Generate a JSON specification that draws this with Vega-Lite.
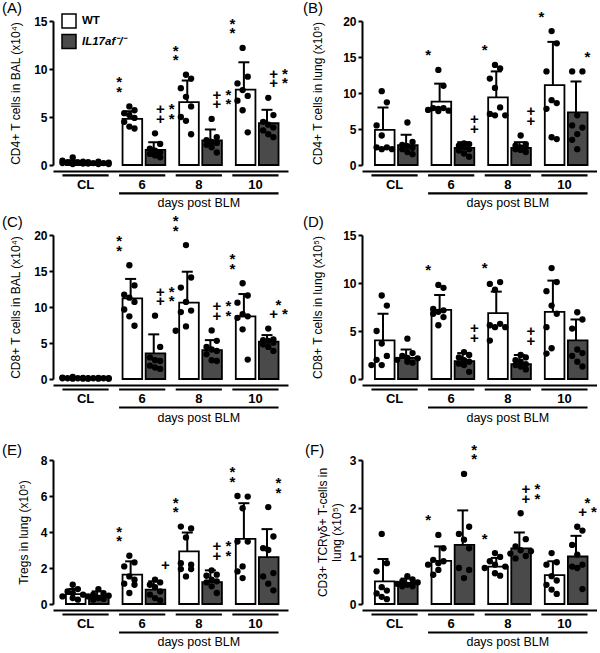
{
  "$schema": "https://vega.github.io/schema/vega-lite/v6.json",
  "padding": {"left": 2, "top": 0, "right": 0, "bottom": 0},
  "config": {
    "font": "Liberation Sans",
    "view": {"stroke": null},
    "axis": {"domainColor": "black", "domainWidth": 2, "tickColor": "black", "tickWidth": 2, "tickSize": 4, "labelColor": "black", "labelFontSize": 12, "labelFontWeight": "bold", "labelPadding": 2, "titleColor": "black", "titleFontSize": 12, "titleFontWeight": "normal", "grid": false},
    "title": {"color": "black"},
    "legend": {"padding": 0}
  },
  "datasets": {
    "st": [
      {"p":"A","d":"CL","g":"WT","m":0.3,"s":0.2},{"p":"A","d":"CL","g":"KO","m":0.2,"s":0.1},
      {"p":"A","d":"6","g":"WT","m":4.8,"s":0.8},{"p":"A","d":"6","g":"KO","m":1.57,"s":0.8},
      {"p":"A","d":"8","g":"WT","m":6.55,"s":2.25},{"p":"A","d":"8","g":"KO","m":2.55,"s":1.15},
      {"p":"A","d":"10","g":"WT","m":7.85,"s":2.85},{"p":"A","d":"10","g":"KO","m":4.35,"s":1.4},
      {"p":"B","d":"CL","g":"WT","m":4.87,"s":3.13},{"p":"B","d":"CL","g":"KO","m":2.74,"s":1.46},
      {"p":"B","d":"6","g":"WT","m":8.8,"s":2.5},{"p":"B","d":"6","g":"KO","m":2.37,"s":0.8},
      {"p":"B","d":"8","g":"WT","m":9.4,"s":3.6},{"p":"B","d":"8","g":"KO","m":2.37,"s":0.8},
      {"p":"B","d":"10","g":"WT","m":11.1,"s":6.0},{"p":"B","d":"10","g":"KO","m":7.3,"s":4.3},
      {"p":"C","d":"CL","g":"WT","m":0.12,"s":0.05},{"p":"C","d":"CL","g":"KO","m":0.1,"s":0.04},
      {"p":"C","d":"6","g":"WT","m":11.2,"s":2.7},{"p":"C","d":"6","g":"KO","m":3.55,"s":2.65},
      {"p":"C","d":"8","g":"WT","m":10.6,"s":4.3},{"p":"C","d":"8","g":"KO","m":4.0,"s":1.4},
      {"p":"C","d":"10","g":"WT","m":8.7,"s":3.1},{"p":"C","d":"10","g":"KO","m":5.2,"s":0.9},
      {"p":"D","d":"CL","g":"WT","m":4.03,"s":2.77},{"p":"D","d":"CL","g":"KO","m":2.2,"s":0.87},
      {"p":"D","d":"6","g":"WT","m":7.2,"s":1.55},{"p":"D","d":"6","g":"KO","m":1.86,"s":0.84},
      {"p":"D","d":"8","g":"WT","m":6.86,"s":2.24},{"p":"D","d":"8","g":"KO","m":1.55,"s":0.95},
      {"p":"D","d":"10","g":"WT","m":7.0,"s":3.25},{"p":"D","d":"10","g":"KO","m":4.03,"s":2.17},
      {"p":"E","d":"CL","g":"WT","m":0.55,"s":0.28},{"p":"E","d":"CL","g":"KO","m":0.46,"s":0.24},
      {"p":"E","d":"6","g":"WT","m":1.63,"s":0.74},{"p":"E","d":"6","g":"KO","m":0.8,"s":0.46},
      {"p":"E","d":"8","g":"WT","m":2.92,"s":1.05},{"p":"E","d":"8","g":"KO","m":1.22,"s":0.65},
      {"p":"E","d":"10","g":"WT","m":3.62,"s":1.98},{"p":"E","d":"10","g":"KO","m":2.6,"s":1.56},
      {"p":"F","d":"CL","g":"WT","m":0.47,"s":0.47},{"p":"F","d":"CL","g":"KO","m":0.44,"s":0.09},
      {"p":"F","d":"6","g":"WT","m":0.9,"s":0.3},{"p":"F","d":"6","g":"KO","m":1.23,"s":0.72},
      {"p":"F","d":"8","g":"WT","m":0.78,"s":0.18},{"p":"F","d":"8","g":"KO","m":1.16,"s":0.33},
      {"p":"F","d":"10","g":"WT","m":0.6,"s":0.29},{"p":"F","d":"10","g":"KO","m":0.99,"s":0.43}
    ],
    "sg": [
      {"k":"A|6|WT","t":"*\n*"},{"k":"A|6|KO","t":"+\u00a0*\n+\u00a0*"},{"k":"A|8|WT","t":"*\n*"},{"k":"A|8|KO","t":"+\u00a0*\n+\u00a0*"},{"k":"A|10|WT","t":"*\n*"},{"k":"A|10|KO","t":"+\u00a0*\n+\u00a0*"},
      {"k":"B|6|WT","t":"\u00a0\n*"},{"k":"B|6|KO","t":"+\n+"},{"k":"B|8|WT","t":"\u00a0\n*"},{"k":"B|8|KO","t":"+\n+"},{"k":"B|10|WT","t":"\u00a0\n*"},{"k":"B|10|KO","t":"\u00a0\n*"},
      {"k":"C|6|WT","t":"*\n*"},{"k":"C|6|KO","t":"+\u00a0*\n+\u00a0*"},{"k":"C|8|WT","t":"*\n*"},{"k":"C|8|KO","t":"+\u00a0*\n+\u00a0*"},{"k":"C|10|WT","t":"*\n*"},{"k":"C|10|KO","t":"\u00a0\u00a0\u00a0*\n+\u00a0*"},
      {"k":"D|6|WT","t":"\u00a0\n*"},{"k":"D|6|KO","t":"+\n+"},{"k":"D|8|WT","t":"\u00a0\n*"},{"k":"D|8|KO","t":"+\n+"},
      {"k":"E|6|WT","t":"*\n*"},{"k":"E|6|KO","t":"\u00a0\n+"},{"k":"E|8|WT","t":"*\n*"},{"k":"E|8|KO","t":"+\u00a0*\n+\u00a0*"},{"k":"E|10|WT","t":"*\n*"},{"k":"E|10|KO","t":"*\n*"},
      {"k":"F|6|WT","t":"\u00a0\n*"},{"k":"F|6|KO","t":"*\n*"},{"k":"F|8|WT","t":"\u00a0\n*"},{"k":"F|8|KO","t":"+\u00a0*\n+\u00a0*"},{"k":"F|10|KO","t":"\u00a0\u00a0\u00a0*\n+\u00a0*"}
    ],
    "strip": [
      {"a":"CL","b":"CL","c":"CL","lv":1,"t":"CL"},
      {"a":"6","b":"6","c":"6","lv":1,"t":"6"},
      {"a":"8","b":"8","c":"8","lv":1,"t":"8"},
      {"a":"10","b":"10","c":"10","lv":1,"t":"10"},
      {"a":"6","b":"10","c":"8","lv":2,"t":"days post BLM"}
    ],
    "pts": [
      {"p":"A","d":"CL","g":"WT","v":0.8,"j":0},{"p":"A","d":"CL","g":"WT","v":0.45,"j":-2},{"p":"A","d":"CL","g":"WT","v":0.35,"j":2},{"p":"A","d":"CL","g":"WT","v":0.3,"j":-1},{"p":"A","d":"CL","g":"WT","v":0.25,"j":1},{"p":"A","d":"CL","g":"WT","v":0.2,"j":-2},{"p":"A","d":"CL","g":"WT","v":0.15,"j":2},{"p":"A","d":"CL","g":"WT","v":0.1,"j":0},
      {"p":"A","d":"CL","g":"KO","v":0.35,"j":0},{"p":"A","d":"CL","g":"KO","v":0.3,"j":-2},{"p":"A","d":"CL","g":"KO","v":0.25,"j":2},{"p":"A","d":"CL","g":"KO","v":0.2,"j":-1},{"p":"A","d":"CL","g":"KO","v":0.2,"j":1},{"p":"A","d":"CL","g":"KO","v":0.15,"j":-2},{"p":"A","d":"CL","g":"KO","v":0.1,"j":2},{"p":"A","d":"CL","g":"KO","v":0.1,"j":0},
      {"p":"A","d":"6","g":"WT","v":6.1,"j":0},{"p":"A","d":"6","g":"WT","v":5.7,"j":1},{"p":"A","d":"6","g":"WT","v":5.4,"j":-1},{"p":"A","d":"6","g":"WT","v":5.2,"j":0},{"p":"A","d":"6","g":"WT","v":4.9,"j":1},{"p":"A","d":"6","g":"WT","v":4.5,"j":-1},{"p":"A","d":"6","g":"WT","v":4.0,"j":0},{"p":"A","d":"6","g":"WT","v":3.8,"j":1},
      {"p":"A","d":"6","g":"KO","v":3.3,"j":0},{"p":"A","d":"6","g":"KO","v":2.2,"j":1},{"p":"A","d":"6","g":"KO","v":1.7,"j":-1},{"p":"A","d":"6","g":"KO","v":1.5,"j":0},{"p":"A","d":"6","g":"KO","v":1.3,"j":1},{"p":"A","d":"6","g":"KO","v":1.15,"j":-1},{"p":"A","d":"6","g":"KO","v":1.0,"j":0},{"p":"A","d":"6","g":"KO","v":0.8,"j":1},
      {"p":"A","d":"8","g":"WT","v":9.4,"j":0},{"p":"A","d":"8","g":"WT","v":9.0,"j":1},{"p":"A","d":"8","g":"WT","v":8.0,"j":-1},{"p":"A","d":"8","g":"WT","v":7.1,"j":0},{"p":"A","d":"8","g":"WT","v":6.1,"j":1},{"p":"A","d":"8","g":"WT","v":5.0,"j":-1},{"p":"A","d":"8","g":"WT","v":4.6,"j":0},{"p":"A","d":"8","g":"WT","v":3.2,"j":1},
      {"p":"A","d":"8","g":"KO","v":4.8,"j":0},{"p":"A","d":"8","g":"KO","v":2.9,"j":1},{"p":"A","d":"8","g":"KO","v":2.6,"j":-1},{"p":"A","d":"8","g":"KO","v":2.4,"j":0},{"p":"A","d":"8","g":"KO","v":2.3,"j":1},{"p":"A","d":"8","g":"KO","v":2.1,"j":-1},{"p":"A","d":"8","g":"KO","v":1.85,"j":0},{"p":"A","d":"8","g":"KO","v":1.3,"j":1},
      {"p":"A","d":"10","g":"WT","v":12.2,"j":0},{"p":"A","d":"10","g":"WT","v":9.2,"j":1},{"p":"A","d":"10","g":"WT","v":8.5,"j":-1},{"p":"A","d":"10","g":"WT","v":7.8,"j":0},{"p":"A","d":"10","g":"WT","v":7.2,"j":1},{"p":"A","d":"10","g":"WT","v":6.7,"j":-1},{"p":"A","d":"10","g":"WT","v":5.7,"j":0},{"p":"A","d":"10","g":"WT","v":3.4,"j":1},
      {"p":"A","d":"10","g":"KO","v":7.0,"j":0},{"p":"A","d":"10","g":"KO","v":5.2,"j":1},{"p":"A","d":"10","g":"KO","v":4.5,"j":-1},{"p":"A","d":"10","g":"KO","v":4.2,"j":0},{"p":"A","d":"10","g":"KO","v":3.9,"j":1},{"p":"A","d":"10","g":"KO","v":3.6,"j":-1},{"p":"A","d":"10","g":"KO","v":3.2,"j":0},{"p":"A","d":"10","g":"KO","v":2.9,"j":1},

      {"p":"B","d":"CL","g":"WT","v":10.25,"j":0},{"p":"B","d":"CL","g":"WT","v":8.7,"j":1},{"p":"B","d":"CL","g":"WT","v":5.5,"j":-1},{"p":"B","d":"CL","g":"WT","v":4.1,"j":0},{"p":"B","d":"CL","g":"WT","v":2.45,"j":1},{"p":"B","d":"CL","g":"WT","v":2.45,"j":-1},{"p":"B","d":"CL","g":"WT","v":2.2,"j":0},{"p":"B","d":"CL","g":"WT","v":2.2,"j":2},
      {"p":"B","d":"CL","g":"KO","v":5.9,"j":0},{"p":"B","d":"CL","g":"KO","v":3.2,"j":1},{"p":"B","d":"CL","g":"KO","v":2.8,"j":-1},{"p":"B","d":"CL","g":"KO","v":2.6,"j":0},{"p":"B","d":"CL","g":"KO","v":2.4,"j":1},{"p":"B","d":"CL","g":"KO","v":2.2,"j":-1},{"p":"B","d":"CL","g":"KO","v":1.8,"j":0},{"p":"B","d":"CL","g":"KO","v":1.5,"j":1},
      {"p":"B","d":"6","g":"WT","v":13.2,"j":0},{"p":"B","d":"6","g":"WT","v":11.0,"j":1},{"p":"B","d":"6","g":"WT","v":7.9,"j":-1},{"p":"B","d":"6","g":"WT","v":7.9,"j":1},{"p":"B","d":"6","g":"WT","v":7.8,"j":0},{"p":"B","d":"6","g":"WT","v":7.65,"j":-2},{"p":"B","d":"6","g":"WT","v":7.55,"j":2},{"p":"B","d":"6","g":"WT","v":7.5,"j":0},
      {"p":"B","d":"6","g":"KO","v":3.0,"j":0},{"p":"B","d":"6","g":"KO","v":2.9,"j":1},{"p":"B","d":"6","g":"KO","v":2.7,"j":-1},{"p":"B","d":"6","g":"KO","v":2.45,"j":0},{"p":"B","d":"6","g":"KO","v":2.2,"j":1},{"p":"B","d":"6","g":"KO","v":2.0,"j":-1},{"p":"B","d":"6","g":"KO","v":1.6,"j":0},{"p":"B","d":"6","g":"KO","v":1.15,"j":1},
      {"p":"B","d":"8","g":"WT","v":13.9,"j":0},{"p":"B","d":"8","g":"WT","v":13.4,"j":1},{"p":"B","d":"8","g":"WT","v":12.0,"j":-1},{"p":"B","d":"8","g":"WT","v":10.7,"j":0},{"p":"B","d":"8","g":"WT","v":8.0,"j":1},{"p":"B","d":"8","g":"WT","v":7.1,"j":-1},{"p":"B","d":"8","g":"WT","v":6.9,"j":0},{"p":"B","d":"8","g":"WT","v":6.9,"j":2},
      {"p":"B","d":"8","g":"KO","v":4.1,"j":0},{"p":"B","d":"8","g":"KO","v":2.9,"j":1},{"p":"B","d":"8","g":"KO","v":2.7,"j":-1},{"p":"B","d":"8","g":"KO","v":2.45,"j":0},{"p":"B","d":"8","g":"KO","v":2.4,"j":1},{"p":"B","d":"8","g":"KO","v":2.2,"j":-1},{"p":"B","d":"8","g":"KO","v":2.1,"j":0},{"p":"B","d":"8","g":"KO","v":1.8,"j":1},
      {"p":"B","d":"10","g":"WT","v":18.6,"j":0},{"p":"B","d":"10","g":"WT","v":16.9,"j":1},{"p":"B","d":"10","g":"WT","v":13.0,"j":-1},{"p":"B","d":"10","g":"WT","v":9.0,"j":0},{"p":"B","d":"10","g":"WT","v":8.6,"j":1},{"p":"B","d":"10","g":"WT","v":7.8,"j":-1},{"p":"B","d":"10","g":"WT","v":3.85,"j":0},{"p":"B","d":"10","g":"WT","v":3.6,"j":1},
      {"p":"B","d":"10","g":"KO","v":13.0,"j":-1},{"p":"B","d":"10","g":"KO","v":13.0,"j":1},{"p":"B","d":"10","g":"KO","v":6.9,"j":0},{"p":"B","d":"10","g":"KO","v":5.5,"j":-1},{"p":"B","d":"10","g":"KO","v":5.2,"j":1},{"p":"B","d":"10","g":"KO","v":4.3,"j":0},{"p":"B","d":"10","g":"KO","v":3.5,"j":-1},{"p":"B","d":"10","g":"KO","v":2.2,"j":0},

      {"p":"C","d":"CL","g":"WT","v":0.3,"j":0},{"p":"C","d":"CL","g":"WT","v":0.2,"j":-2},{"p":"C","d":"CL","g":"WT","v":0.15,"j":2},{"p":"C","d":"CL","g":"WT","v":0.1,"j":-1},{"p":"C","d":"CL","g":"WT","v":0.1,"j":1},{"p":"C","d":"CL","g":"WT","v":0.1,"j":-2},{"p":"C","d":"CL","g":"WT","v":0.05,"j":2},{"p":"C","d":"CL","g":"WT","v":0.05,"j":0},
      {"p":"C","d":"CL","g":"KO","v":0.15,"j":0},{"p":"C","d":"CL","g":"KO","v":0.1,"j":-2},{"p":"C","d":"CL","g":"KO","v":0.1,"j":2},{"p":"C","d":"CL","g":"KO","v":0.1,"j":-1},{"p":"C","d":"CL","g":"KO","v":0.1,"j":1},{"p":"C","d":"CL","g":"KO","v":0.05,"j":-2},{"p":"C","d":"CL","g":"KO","v":0.05,"j":2},{"p":"C","d":"CL","g":"KO","v":0.05,"j":0},
      {"p":"C","d":"6","g":"WT","v":15.8,"j":0},{"p":"C","d":"6","g":"WT","v":13.0,"j":1},{"p":"C","d":"6","g":"WT","v":11.7,"j":-1},{"p":"C","d":"6","g":"WT","v":11.3,"j":0},{"p":"C","d":"6","g":"WT","v":10.7,"j":1},{"p":"C","d":"6","g":"WT","v":9.65,"j":-1},{"p":"C","d":"6","g":"WT","v":8.7,"j":0},{"p":"C","d":"6","g":"WT","v":7.4,"j":1},
      {"p":"C","d":"6","g":"KO","v":8.8,"j":0},{"p":"C","d":"6","g":"KO","v":4.45,"j":1},{"p":"C","d":"6","g":"KO","v":3.0,"j":-1},{"p":"C","d":"6","g":"KO","v":2.6,"j":0},{"p":"C","d":"6","g":"KO","v":2.5,"j":1},{"p":"C","d":"6","g":"KO","v":1.85,"j":-1},{"p":"C","d":"6","g":"KO","v":1.6,"j":0},{"p":"C","d":"6","g":"KO","v":1.4,"j":1},
      {"p":"C","d":"8","g":"WT","v":18.6,"j":0},{"p":"C","d":"8","g":"WT","v":14.1,"j":1},{"p":"C","d":"8","g":"WT","v":12.7,"j":-1},{"p":"C","d":"8","g":"WT","v":10.7,"j":0},{"p":"C","d":"8","g":"WT","v":9.5,"j":1},{"p":"C","d":"8","g":"WT","v":9.3,"j":-1},{"p":"C","d":"8","g":"WT","v":7.3,"j":0},{"p":"C","d":"8","g":"WT","v":6.7,"j":-2},
      {"p":"C","d":"8","g":"KO","v":6.75,"j":0},{"p":"C","d":"8","g":"KO","v":5.3,"j":1},{"p":"C","d":"8","g":"KO","v":4.45,"j":-1},{"p":"C","d":"8","g":"KO","v":4.1,"j":0},{"p":"C","d":"8","g":"KO","v":3.9,"j":1},{"p":"C","d":"8","g":"KO","v":3.45,"j":-1},{"p":"C","d":"8","g":"KO","v":2.6,"j":0},{"p":"C","d":"8","g":"KO","v":2.5,"j":1},
      {"p":"C","d":"10","g":"WT","v":13.3,"j":0},{"p":"C","d":"10","g":"WT","v":11.6,"j":1},{"p":"C","d":"10","g":"WT","v":10.6,"j":-1},{"p":"C","d":"10","g":"WT","v":9.0,"j":0},{"p":"C","d":"10","g":"WT","v":8.7,"j":1},{"p":"C","d":"10","g":"WT","v":8.5,"j":-1},{"p":"C","d":"10","g":"WT","v":6.9,"j":0},{"p":"C","d":"10","g":"WT","v":2.7,"j":1},
      {"p":"C","d":"10","g":"KO","v":7.0,"j":0},{"p":"C","d":"10","g":"KO","v":5.5,"j":1},{"p":"C","d":"10","g":"KO","v":5.4,"j":-1},{"p":"C","d":"10","g":"KO","v":5.3,"j":0},{"p":"C","d":"10","g":"KO","v":5.05,"j":1},{"p":"C","d":"10","g":"KO","v":4.8,"j":-1},{"p":"C","d":"10","g":"KO","v":4.45,"j":0},{"p":"C","d":"10","g":"KO","v":3.9,"j":1},

      {"p":"D","d":"CL","g":"WT","v":8.7,"j":0},{"p":"D","d":"CL","g":"WT","v":7.65,"j":1},{"p":"D","d":"CL","g":"WT","v":5.0,"j":-1},{"p":"D","d":"CL","g":"WT","v":3.7,"j":0},{"p":"D","d":"CL","g":"WT","v":2.4,"j":1},{"p":"D","d":"CL","g":"WT","v":2.0,"j":-1},{"p":"D","d":"CL","g":"WT","v":1.45,"j":0},{"p":"D","d":"CL","g":"WT","v":1.45,"j":-2},
      {"p":"D","d":"CL","g":"KO","v":4.2,"j":0},{"p":"D","d":"CL","g":"KO","v":2.7,"j":1},{"p":"D","d":"CL","g":"KO","v":2.4,"j":-1},{"p":"D","d":"CL","g":"KO","v":2.2,"j":0},{"p":"D","d":"CL","g":"KO","v":2.15,"j":2},{"p":"D","d":"CL","g":"KO","v":2.0,"j":-2},{"p":"D","d":"CL","g":"KO","v":1.8,"j":0},{"p":"D","d":"CL","g":"KO","v":1.7,"j":1},
      {"p":"D","d":"6","g":"WT","v":9.8,"j":0},{"p":"D","d":"6","g":"WT","v":9.5,"j":1},{"p":"D","d":"6","g":"WT","v":7.3,"j":-1},{"p":"D","d":"6","g":"WT","v":7.15,"j":1},{"p":"D","d":"6","g":"WT","v":7.0,"j":0},{"p":"D","d":"6","g":"WT","v":6.8,"j":-1},{"p":"D","d":"6","g":"WT","v":6.45,"j":1},{"p":"D","d":"6","g":"WT","v":5.6,"j":0},
      {"p":"D","d":"6","g":"KO","v":2.8,"j":0},{"p":"D","d":"6","g":"KO","v":2.5,"j":1},{"p":"D","d":"6","g":"KO","v":2.25,"j":-1},{"p":"D","d":"6","g":"KO","v":1.95,"j":0},{"p":"D","d":"6","g":"KO","v":1.8,"j":1},{"p":"D","d":"6","g":"KO","v":1.6,"j":-1},{"p":"D","d":"6","g":"KO","v":1.45,"j":0},{"p":"D","d":"6","g":"KO","v":0.75,"j":1},
      {"p":"D","d":"8","g":"WT","v":10.1,"j":1},{"p":"D","d":"8","g":"WT","v":9.9,"j":-1},{"p":"D","d":"8","g":"WT","v":9.3,"j":0},{"p":"D","d":"8","g":"WT","v":5.75,"j":1},{"p":"D","d":"8","g":"WT","v":5.6,"j":-1},{"p":"D","d":"8","g":"WT","v":5.4,"j":0},{"p":"D","d":"8","g":"WT","v":5.4,"j":2},{"p":"D","d":"8","g":"WT","v":4.0,"j":-1},
      {"p":"D","d":"8","g":"KO","v":2.5,"j":0},{"p":"D","d":"8","g":"KO","v":2.25,"j":1},{"p":"D","d":"8","g":"KO","v":1.95,"j":-1},{"p":"D","d":"8","g":"KO","v":1.8,"j":0},{"p":"D","d":"8","g":"KO","v":1.55,"j":1},{"p":"D","d":"8","g":"KO","v":1.45,"j":-1},{"p":"D","d":"8","g":"KO","v":1.3,"j":0},{"p":"D","d":"8","g":"KO","v":1.0,"j":1},
      {"p":"D","d":"10","g":"WT","v":11.55,"j":0},{"p":"D","d":"10","g":"WT","v":10.1,"j":1},{"p":"D","d":"10","g":"WT","v":9.15,"j":-1},{"p":"D","d":"10","g":"WT","v":7.65,"j":0},{"p":"D","d":"10","g":"WT","v":6.8,"j":1},{"p":"D","d":"10","g":"WT","v":5.4,"j":-1},{"p":"D","d":"10","g":"WT","v":3.2,"j":0},{"p":"D","d":"10","g":"WT","v":2.65,"j":-1},
      {"p":"D","d":"10","g":"KO","v":6.95,"j":0},{"p":"D","d":"10","g":"KO","v":6.2,"j":1},{"p":"D","d":"10","g":"KO","v":5.25,"j":-1},{"p":"D","d":"10","g":"KO","v":3.07,"j":0},{"p":"D","d":"10","g":"KO","v":2.7,"j":1},{"p":"D","d":"10","g":"KO","v":2.4,"j":-1},{"p":"D","d":"10","g":"KO","v":1.8,"j":0},{"p":"D","d":"10","g":"KO","v":1.3,"j":1},

      {"p":"E","d":"CL","g":"WT","v":1.07,"j":0},{"p":"E","d":"CL","g":"WT","v":0.83,"j":1},{"p":"E","d":"CL","g":"WT","v":0.7,"j":-1},{"p":"E","d":"CL","g":"WT","v":0.6,"j":0},{"p":"E","d":"CL","g":"WT","v":0.52,"j":2},{"p":"E","d":"CL","g":"WT","v":0.42,"j":-2},{"p":"E","d":"CL","g":"WT","v":0.33,"j":0},{"p":"E","d":"CL","g":"WT","v":0.24,"j":1},
      {"p":"E","d":"CL","g":"KO","v":0.83,"j":0},{"p":"E","d":"CL","g":"KO","v":0.6,"j":1},{"p":"E","d":"CL","g":"KO","v":0.52,"j":-1},{"p":"E","d":"CL","g":"KO","v":0.46,"j":2},{"p":"E","d":"CL","g":"KO","v":0.42,"j":-2},{"p":"E","d":"CL","g":"KO","v":0.33,"j":0},{"p":"E","d":"CL","g":"KO","v":0.28,"j":1},{"p":"E","d":"CL","g":"KO","v":0.24,"j":-1},
      {"p":"E","d":"6","g":"WT","v":2.68,"j":0},{"p":"E","d":"6","g":"WT","v":2.31,"j":1},{"p":"E","d":"6","g":"WT","v":2.09,"j":-1},{"p":"E","d":"6","g":"WT","v":1.53,"j":0},{"p":"E","d":"6","g":"WT","v":1.35,"j":1},{"p":"E","d":"6","g":"WT","v":1.13,"j":-1},{"p":"E","d":"6","g":"WT","v":1.07,"j":1},{"p":"E","d":"6","g":"WT","v":0.61,"j":0},
      {"p":"E","d":"6","g":"KO","v":1.35,"j":0},{"p":"E","d":"6","g":"KO","v":1.2,"j":1},{"p":"E","d":"6","g":"KO","v":1.07,"j":-1},{"p":"E","d":"6","g":"KO","v":0.94,"j":0},{"p":"E","d":"6","g":"KO","v":0.7,"j":1},{"p":"E","d":"6","g":"KO","v":0.52,"j":-1},{"p":"E","d":"6","g":"KO","v":0.33,"j":0},{"p":"E","d":"6","g":"KO","v":0.2,"j":1},
      {"p":"E","d":"8","g":"WT","v":4.3,"j":-1},{"p":"E","d":"8","g":"WT","v":4.2,"j":1},{"p":"E","d":"8","g":"WT","v":3.7,"j":0},{"p":"E","d":"8","g":"WT","v":2.27,"j":-1},{"p":"E","d":"8","g":"WT","v":2.18,"j":1},{"p":"E","d":"8","g":"WT","v":1.94,"j":-1},{"p":"E","d":"8","g":"WT","v":1.94,"j":1},{"p":"E","d":"8","g":"WT","v":1.53,"j":0},
      {"p":"E","d":"8","g":"KO","v":1.87,"j":0},{"p":"E","d":"8","g":"KO","v":1.63,"j":1},{"p":"E","d":"8","g":"KO","v":1.57,"j":-1},{"p":"E","d":"8","g":"KO","v":1.35,"j":0},{"p":"E","d":"8","g":"KO","v":1.26,"j":1},{"p":"E","d":"8","g":"KO","v":1.2,"j":-1},{"p":"E","d":"8","g":"KO","v":0.98,"j":0},{"p":"E","d":"8","g":"KO","v":0.61,"j":1},
      {"p":"E","d":"10","g":"WT","v":6.0,"j":-1},{"p":"E","d":"10","g":"WT","v":5.97,"j":1},{"p":"E","d":"10","g":"WT","v":5.32,"j":0},{"p":"E","d":"10","g":"WT","v":3.47,"j":-1},{"p":"E","d":"10","g":"WT","v":3.47,"j":1},{"p":"E","d":"10","g":"WT","v":2.09,"j":0},{"p":"E","d":"10","g":"WT","v":1.81,"j":-1},{"p":"E","d":"10","g":"WT","v":1.44,"j":0},
      {"p":"E","d":"10","g":"KO","v":5.38,"j":0},{"p":"E","d":"10","g":"KO","v":3.75,"j":1},{"p":"E","d":"10","g":"KO","v":3.1,"j":-1},{"p":"E","d":"10","g":"KO","v":3.0,"j":0},{"p":"E","d":"10","g":"KO","v":1.72,"j":1},{"p":"E","d":"10","g":"KO","v":1.53,"j":-1},{"p":"E","d":"10","g":"KO","v":1.13,"j":0},{"p":"E","d":"10","g":"KO","v":0.76,"j":1},

      {"p":"F","d":"CL","g":"WT","v":1.46,"j":0},{"p":"F","d":"CL","g":"WT","v":0.85,"j":1},{"p":"F","d":"CL","g":"WT","v":0.68,"j":-1},{"p":"F","d":"CL","g":"WT","v":0.35,"j":0},{"p":"F","d":"CL","g":"WT","v":0.28,"j":1},{"p":"F","d":"CL","g":"WT","v":0.22,"j":-1},{"p":"F","d":"CL","g":"WT","v":0.15,"j":0},{"p":"F","d":"CL","g":"WT","v":0.1,"j":1},
      {"p":"F","d":"CL","g":"KO","v":0.58,"j":0},{"p":"F","d":"CL","g":"KO","v":0.51,"j":1},{"p":"F","d":"CL","g":"KO","v":0.47,"j":-1},{"p":"F","d":"CL","g":"KO","v":0.45,"j":2},{"p":"F","d":"CL","g":"KO","v":0.42,"j":-2},{"p":"F","d":"CL","g":"KO","v":0.4,"j":0},{"p":"F","d":"CL","g":"KO","v":0.37,"j":1},{"p":"F","d":"CL","g":"KO","v":0.37,"j":-1},
      {"p":"F","d":"6","g":"WT","v":1.44,"j":0},{"p":"F","d":"6","g":"WT","v":1.16,"j":1},{"p":"F","d":"6","g":"WT","v":0.92,"j":-1},{"p":"F","d":"6","g":"WT","v":0.89,"j":1},{"p":"F","d":"6","g":"WT","v":0.85,"j":0},{"p":"F","d":"6","g":"WT","v":0.82,"j":-2},{"p":"F","d":"6","g":"WT","v":0.71,"j":0},{"p":"F","d":"6","g":"WT","v":0.61,"j":-1},
      {"p":"F","d":"6","g":"KO","v":2.71,"j":0},{"p":"F","d":"6","g":"KO","v":1.61,"j":1},{"p":"F","d":"6","g":"KO","v":1.46,"j":-1},{"p":"F","d":"6","g":"KO","v":1.34,"j":0},{"p":"F","d":"6","g":"KO","v":1.16,"j":1},{"p":"F","d":"6","g":"KO","v":0.75,"j":-1},{"p":"F","d":"6","g":"KO","v":0.71,"j":1},{"p":"F","d":"6","g":"KO","v":0.54,"j":0},
      {"p":"F","d":"8","g":"WT","v":1.06,"j":0},{"p":"F","d":"8","g":"WT","v":0.98,"j":1},{"p":"F","d":"8","g":"WT","v":0.89,"j":-1},{"p":"F","d":"8","g":"WT","v":0.82,"j":0},{"p":"F","d":"8","g":"WT","v":0.78,"j":2},{"p":"F","d":"8","g":"WT","v":0.75,"j":-2},{"p":"F","d":"8","g":"WT","v":0.64,"j":0},{"p":"F","d":"8","g":"WT","v":0.59,"j":1},
      {"p":"F","d":"8","g":"KO","v":1.89,"j":0},{"p":"F","d":"8","g":"KO","v":1.35,"j":1},{"p":"F","d":"8","g":"KO","v":1.2,"j":-1},{"p":"F","d":"8","g":"KO","v":1.12,"j":0},{"p":"F","d":"8","g":"KO","v":1.1,"j":2},{"p":"F","d":"8","g":"KO","v":1.05,"j":-2},{"p":"F","d":"8","g":"KO","v":1.0,"j":1},{"p":"F","d":"8","g":"KO","v":0.95,"j":-1},
      {"p":"F","d":"10","g":"WT","v":1.06,"j":0},{"p":"F","d":"10","g":"WT","v":0.87,"j":1},{"p":"F","d":"10","g":"WT","v":0.82,"j":-1},{"p":"F","d":"10","g":"WT","v":0.58,"j":0},{"p":"F","d":"10","g":"WT","v":0.49,"j":1},{"p":"F","d":"10","g":"WT","v":0.4,"j":-1},{"p":"F","d":"10","g":"WT","v":0.3,"j":0},{"p":"F","d":"10","g":"WT","v":0.21,"j":1},
      {"p":"F","d":"10","g":"KO","v":1.61,"j":0},{"p":"F","d":"10","g":"KO","v":1.53,"j":1},{"p":"F","d":"10","g":"KO","v":1.23,"j":-1},{"p":"F","d":"10","g":"KO","v":1.03,"j":0},{"p":"F","d":"10","g":"KO","v":0.82,"j":1},{"p":"F","d":"10","g":"KO","v":0.78,"j":-1},{"p":"F","d":"10","g":"KO","v":0.75,"j":0},{"p":"F","d":"10","g":"KO","v":0.31,"j":1}
    ]
  },
  "columns": 2,
  "bounds": "flush",
  "spacing": {"row": 0, "column": 74},
  "resolve": {"scale": {"fill": "independent"}},
  "concat": [
    {"width": 235, "height": 10, "data": {"name": "strip"}, "mark": {"type": "text", "opacity": 0}, "encoding": {"text": {"value": ""}},
     "title": {"text": "(A)", "anchor": "start", "frame": "group", "dx": -51, "offset": -6, "fontSize": 15, "fontWeight": "normal"}},
    {"width": 235, "height": 10, "data": {"name": "strip"}, "mark": {"type": "text", "opacity": 0}, "encoding": {"text": {"value": ""}},
     "title": {"text": "(B)", "anchor": "start", "frame": "group", "dx": -59, "offset": -6, "fontSize": 15, "fontWeight": "normal"}},
    {
      "width": 235, "height": 144,
      "resolve": {"scale": {"xOffset": "independent"}},
      "encoding": {"x": {"field": "d", "type": "nominal", "scale": {"domain": ["CL","6","8","10"], "paddingInner": 0.184, "paddingOuter": 0.167}, "axis": {"labels": false, "ticks": false, "title": null, "offset": 6}}},
      "layer": [
        {"data": {"name": "st"}, "transform": [{"filter": "datum.p=='A'"}],
         "mark": {"type": "bar", "stroke": "black", "strokeWidth": 1.8, "width": {"band": 0.85}},
         "encoding": {
           "xOffset": {"field": "g", "scale": {"domain": ["WT","KO"], "paddingInner": 0, "paddingOuter": 0}},
           "y": {"field": "m", "type": "quantitative", "scale": {"domain": [0,15], "nice": false}, "axis": {"values": [0,5,10,15], "title": "CD4+ T cells in BAL (x10⁴)", "titlePadding": 11}},
           "fill": {"field": "g", "type": "nominal", "scale": {"domain": ["WT","KO"], "range": ["white","#4a4a4a"]},
             "legend": {"orient": "none", "legendX": 8, "legendY": -8, "title": null, "symbolType": "square", "symbolSize": 196, "symbolStrokeColor": "black", "symbolStrokeWidth": 1.5, "labelExpr": "datum.value == 'KO' ? 'IL17af⁻/⁻' : 'WT'", "labelFontSize": 11.5, "labelFontWeight": "bold", "labelColor": "black", "labelFontStyle": {"expr": "datum.value == 'KO' ? 'italic' : 'normal'"}, "rowPadding": 0.5, "labelOffset": 5}}
         }},
        {"data": {"name": "st"}, "transform": [{"filter": "datum.p=='A'"}, {"calculate": "datum.m+datum.s", "as": "hi"}],
         "mark": {"type": "rule", "strokeWidth": 2, "color": "black"},
         "encoding": {"xOffset": {"field": "g", "scale": {"domain": ["WT","KO"], "paddingInner": 0, "paddingOuter": 0}}, "y": {"field": "m", "type": "quantitative", "scale": {"domain": [0,15], "nice": false}, "axis": {"values": [0,5,10,15], "title": "CD4+ T cells in BAL (x10⁴)", "titlePadding": 11}}, "y2": {"field": "hi"}}},
        {"data": {"name": "st"}, "transform": [{"filter": "datum.p=='A'"}, {"calculate": "datum.m+datum.s", "as": "hi"}],
         "mark": {"type": "tick", "thickness": 2, "size": 11, "color": "black", "opacity": 1},
         "encoding": {"xOffset": {"field": "g", "scale": {"domain": ["WT","KO"], "paddingInner": 0, "paddingOuter": 0}}, "y": {"field": "hi", "type": "quantitative", "scale": {"domain": [0,15], "nice": false}, "axis": {"values": [0,5,10,15], "title": "CD4+ T cells in BAL (x10⁴)", "titlePadding": 11}}}},
        {"data": {"name": "pts"}, "transform": [{"filter": "datum.p=='A'"}, {"calculate": "datum.g+datum.j", "as": "jk"}],
         "mark": {"type": "circle", "size": 40, "color": "black", "opacity": 1},
         "encoding": {"xOffset": {"field": "jk", "scale": {"domain": ["WT-2","WT-1","WT0","WT1","WT2","KO-2","KO-1","KO0","KO1","KO2"], "paddingInner": 0, "paddingOuter": 0}}, "y": {"field": "v", "type": "quantitative", "scale": {"domain": [0,15], "nice": false}, "axis": {"values": [0,5,10,15], "title": "CD4+ T cells in BAL (x10⁴)", "titlePadding": 11}}}},
        {"data": {"name": "pts"}, "transform": [{"filter": "datum.p=='A'"}, {"aggregate": [{"op": "max", "field": "v", "as": "top"}], "groupby": ["p","d","g"]}, {"calculate": "datum.p+'|'+datum.d+'|'+datum.g", "as": "k"}, {"lookup": "k", "from": {"data": {"name": "sg"}, "key": "k", "fields": ["t"]}}, {"filter": "datum.t != null"}],
         "mark": {"type": "text", "lineBreak": "\n", "baseline": "bottom", "dy": -16, "fontSize": 15, "fontWeight": "bold", "lineHeight": 9.5, "color": "black"},
         "encoding": {"xOffset": {"field": "g", "scale": {"domain": ["WT","KO"], "paddingInner": 0, "paddingOuter": 0}}, "y": {"field": "top", "type": "quantitative", "scale": {"domain": [0,15], "nice": false}, "axis": {"values": [0,5,10,15], "title": "CD4+ T cells in BAL (x10⁴)", "titlePadding": 11}}, "text": {"field": "t"}}}
      ]
    },
    {
      "width": 235, "height": 144,
      "resolve": {"scale": {"xOffset": "independent"}},
      "encoding": {"x": {"field": "d", "type": "nominal", "scale": {"domain": ["CL","6","8","10"], "paddingInner": 0.184, "paddingOuter": 0.167}, "axis": {"labels": false, "ticks": false, "title": null, "offset": 6}}},
      "layer": [
        {"data": {"name": "st"}, "transform": [{"filter": "datum.p=='B'"}],
         "mark": {"type": "bar", "stroke": "black", "strokeWidth": 1.8, "width": {"band": 0.85}},
         "encoding": {
           "xOffset": {"field": "g", "scale": {"domain": ["WT","KO"], "paddingInner": 0, "paddingOuter": 0}},
           "y": {"field": "m", "type": "quantitative", "scale": {"domain": [0,20], "nice": false}, "axis": {"values": [0,5,10,15,20], "title": "CD4+ T cells in lung (x10⁵)", "titlePadding": 18}},
           "fill": {"condition": {"test": "datum.g=='KO'", "value": "#4a4a4a"}, "value": "white"}
         }},
        {"data": {"name": "st"}, "transform": [{"filter": "datum.p=='B'"}, {"calculate": "datum.m+datum.s", "as": "hi"}],
         "mark": {"type": "rule", "strokeWidth": 2, "color": "black"},
         "encoding": {"xOffset": {"field": "g", "scale": {"domain": ["WT","KO"], "paddingInner": 0, "paddingOuter": 0}}, "y": {"field": "m", "type": "quantitative", "scale": {"domain": [0,20], "nice": false}, "axis": {"values": [0,5,10,15,20], "title": "CD4+ T cells in lung (x10⁵)", "titlePadding": 18}}, "y2": {"field": "hi"}}},
        {"data": {"name": "st"}, "transform": [{"filter": "datum.p=='B'"}, {"calculate": "datum.m+datum.s", "as": "hi"}],
         "mark": {"type": "tick", "thickness": 2, "size": 11, "color": "black", "opacity": 1},
         "encoding": {"xOffset": {"field": "g", "scale": {"domain": ["WT","KO"], "paddingInner": 0, "paddingOuter": 0}}, "y": {"field": "hi", "type": "quantitative", "scale": {"domain": [0,20], "nice": false}, "axis": {"values": [0,5,10,15,20], "title": "CD4+ T cells in lung (x10⁵)", "titlePadding": 18}}}},
        {"data": {"name": "pts"}, "transform": [{"filter": "datum.p=='B'"}, {"calculate": "datum.g+datum.j", "as": "jk"}],
         "mark": {"type": "circle", "size": 40, "color": "black", "opacity": 1},
         "encoding": {"xOffset": {"field": "jk", "scale": {"domain": ["WT-2","WT-1","WT0","WT1","WT2","KO-2","KO-1","KO0","KO1","KO2"], "paddingInner": 0, "paddingOuter": 0}}, "y": {"field": "v", "type": "quantitative", "scale": {"domain": [0,20], "nice": false}, "axis": {"values": [0,5,10,15,20], "title": "CD4+ T cells in lung (x10⁵)", "titlePadding": 18}}}},
        {"data": {"name": "pts"}, "transform": [{"filter": "datum.p=='B'"}, {"aggregate": [{"op": "max", "field": "v", "as": "top"}], "groupby": ["p","d","g"]}, {"calculate": "datum.p+'|'+datum.d+'|'+datum.g", "as": "k"}, {"lookup": "k", "from": {"data": {"name": "sg"}, "key": "k", "fields": ["t"]}}, {"filter": "datum.t != null"}],
         "mark": {"type": "text", "lineBreak": "\n", "baseline": "bottom", "dy": -16, "fontSize": 15, "fontWeight": "bold", "lineHeight": 9.5, "color": "black"},
         "encoding": {"xOffset": {"field": "g", "scale": {"domain": ["WT","KO"], "paddingInner": 0, "paddingOuter": 0}}, "y": {"field": "top", "type": "quantitative", "scale": {"domain": [0,20], "nice": false}, "axis": {"values": [0,5,10,15,20], "title": "CD4+ T cells in lung (x10⁵)", "titlePadding": 18}}, "text": {"field": "t"}}}
      ]
    },
    {
      "width": 235, "height": 60,
      "data": {"name": "strip"},
      "encoding": {"y": {"field": "lv", "type": "quantitative", "scale": {"domain": [0.4167, 3.767], "reverse": true, "nice": false, "zero": false}, "axis": null}},
      "layer": [
        {"mark": {"type": "rule", "strokeWidth": 2.2, "color": "black"},
         "encoding": {"x": {"field": "a", "type": "nominal", "bandPosition": 0, "scale": {"domain": ["CL","6","8","10"], "paddingInner": 0.184, "paddingOuter": 0.167}, "axis": null}, "x2": {"field": "b", "bandPosition": 1}}},
        {"transform": [{"filter": "datum.lv==1"}], "mark": {"type": "text", "baseline": "middle", "dy": 10, "fontSize": 13, "fontWeight": "bold", "color": "black"},
         "encoding": {"x": {"field": "c", "type": "nominal", "scale": {"domain": ["CL","6","8","10"], "paddingInner": 0.184, "paddingOuter": 0.167}, "axis": null}, "text": {"field": "t"}}},
        {"transform": [{"filter": "datum.lv==2"}], "mark": {"type": "text", "baseline": "middle", "dy": 10, "fontSize": 12.5, "color": "black"},
         "encoding": {"x": {"field": "c", "type": "nominal", "scale": {"domain": ["CL","6","8","10"], "paddingInner": 0.184, "paddingOuter": 0.167}, "axis": null}, "text": {"field": "t"}}}
      ]
    },
    {
      "width": 235, "height": 60,
      "data": {"name": "strip"},
      "encoding": {"y": {"field": "lv", "type": "quantitative", "scale": {"domain": [0.4167, 3.767], "reverse": true, "nice": false, "zero": false}, "axis": null}},
      "layer": [
        {"mark": {"type": "rule", "strokeWidth": 2.2, "color": "black"},
         "encoding": {"x": {"field": "a", "type": "nominal", "bandPosition": 0, "scale": {"domain": ["CL","6","8","10"], "paddingInner": 0.184, "paddingOuter": 0.167}, "axis": null}, "x2": {"field": "b", "bandPosition": 1}}},
        {"transform": [{"filter": "datum.lv==1"}], "mark": {"type": "text", "baseline": "middle", "dy": 10, "fontSize": 13, "fontWeight": "bold", "color": "black"},
         "encoding": {"x": {"field": "c", "type": "nominal", "scale": {"domain": ["CL","6","8","10"], "paddingInner": 0.184, "paddingOuter": 0.167}, "axis": null}, "text": {"field": "t"}}},
        {"transform": [{"filter": "datum.lv==2"}], "mark": {"type": "text", "baseline": "middle", "dy": 10, "fontSize": 12.5, "color": "black"},
         "encoding": {"x": {"field": "c", "type": "nominal", "scale": {"domain": ["CL","6","8","10"], "paddingInner": 0.184, "paddingOuter": 0.167}, "axis": null}, "text": {"field": "t"}}}
      ]
    },
    {"width": 235, "height": 10, "data": {"name": "strip"}, "mark": {"type": "text", "opacity": 0}, "encoding": {"text": {"value": ""}},
     "title": {"text": "(C)", "anchor": "start", "frame": "group", "dx": -51, "offset": -6, "fontSize": 15, "fontWeight": "normal"}},
    {"width": 235, "height": 10, "data": {"name": "strip"}, "mark": {"type": "text", "opacity": 0}, "encoding": {"text": {"value": ""}},
     "title": {"text": "(D)", "anchor": "start", "frame": "group", "dx": -59, "offset": -6, "fontSize": 15, "fontWeight": "normal"}},
    {
      "width": 235, "height": 144,
      "resolve": {"scale": {"xOffset": "independent"}},
      "encoding": {"x": {"field": "d", "type": "nominal", "scale": {"domain": ["CL","6","8","10"], "paddingInner": 0.184, "paddingOuter": 0.167}, "axis": {"labels": false, "ticks": false, "title": null, "offset": 6}}},
      "layer": [
        {"data": {"name": "st"}, "transform": [{"filter": "datum.p=='C'"}],
         "mark": {"type": "bar", "stroke": "black", "strokeWidth": 1.8, "width": {"band": 0.85}},
         "encoding": {
           "xOffset": {"field": "g", "scale": {"domain": ["WT","KO"], "paddingInner": 0, "paddingOuter": 0}},
           "y": {"field": "m", "type": "quantitative", "scale": {"domain": [0,20], "nice": false}, "axis": {"values": [0,5,10,15,20], "title": "CD8+ T cells in BAL (x10⁴)", "titlePadding": 11}},
           "fill": {"condition": {"test": "datum.g=='KO'", "value": "#4a4a4a"}, "value": "white"}
         }},
        {"data": {"name": "st"}, "transform": [{"filter": "datum.p=='C'"}, {"calculate": "datum.m+datum.s", "as": "hi"}],
         "mark": {"type": "rule", "strokeWidth": 2, "color": "black"},
         "encoding": {"xOffset": {"field": "g", "scale": {"domain": ["WT","KO"], "paddingInner": 0, "paddingOuter": 0}}, "y": {"field": "m", "type": "quantitative", "scale": {"domain": [0,20], "nice": false}, "axis": {"values": [0,5,10,15,20], "title": "CD8+ T cells in BAL (x10⁴)", "titlePadding": 11}}, "y2": {"field": "hi"}}},
        {"data": {"name": "st"}, "transform": [{"filter": "datum.p=='C'"}, {"calculate": "datum.m+datum.s", "as": "hi"}],
         "mark": {"type": "tick", "thickness": 2, "size": 11, "color": "black", "opacity": 1},
         "encoding": {"xOffset": {"field": "g", "scale": {"domain": ["WT","KO"], "paddingInner": 0, "paddingOuter": 0}}, "y": {"field": "hi", "type": "quantitative", "scale": {"domain": [0,20], "nice": false}, "axis": {"values": [0,5,10,15,20], "title": "CD8+ T cells in BAL (x10⁴)", "titlePadding": 11}}}},
        {"data": {"name": "pts"}, "transform": [{"filter": "datum.p=='C'"}, {"calculate": "datum.g+datum.j", "as": "jk"}],
         "mark": {"type": "circle", "size": 40, "color": "black", "opacity": 1},
         "encoding": {"xOffset": {"field": "jk", "scale": {"domain": ["WT-2","WT-1","WT0","WT1","WT2","KO-2","KO-1","KO0","KO1","KO2"], "paddingInner": 0, "paddingOuter": 0}}, "y": {"field": "v", "type": "quantitative", "scale": {"domain": [0,20], "nice": false}, "axis": {"values": [0,5,10,15,20], "title": "CD8+ T cells in BAL (x10⁴)", "titlePadding": 11}}}},
        {"data": {"name": "pts"}, "transform": [{"filter": "datum.p=='C'"}, {"aggregate": [{"op": "max", "field": "v", "as": "top"}], "groupby": ["p","d","g"]}, {"calculate": "datum.p+'|'+datum.d+'|'+datum.g", "as": "k"}, {"lookup": "k", "from": {"data": {"name": "sg"}, "key": "k", "fields": ["t"]}}, {"filter": "datum.t != null"}],
         "mark": {"type": "text", "lineBreak": "\n", "baseline": "bottom", "dy": -16, "fontSize": 15, "fontWeight": "bold", "lineHeight": 9.5, "color": "black"},
         "encoding": {"xOffset": {"field": "g", "scale": {"domain": ["WT","KO"], "paddingInner": 0, "paddingOuter": 0}}, "y": {"field": "top", "type": "quantitative", "scale": {"domain": [0,20], "nice": false}, "axis": {"values": [0,5,10,15,20], "title": "CD8+ T cells in BAL (x10⁴)", "titlePadding": 11}}, "text": {"field": "t"}}}
      ]
    },
    {
      "width": 235, "height": 144,
      "resolve": {"scale": {"xOffset": "independent"}},
      "encoding": {"x": {"field": "d", "type": "nominal", "scale": {"domain": ["CL","6","8","10"], "paddingInner": 0.184, "paddingOuter": 0.167}, "axis": {"labels": false, "ticks": false, "title": null, "offset": 6}}},
      "layer": [
        {"data": {"name": "st"}, "transform": [{"filter": "datum.p=='D'"}],
         "mark": {"type": "bar", "stroke": "black", "strokeWidth": 1.8, "width": {"band": 0.85}},
         "encoding": {
           "xOffset": {"field": "g", "scale": {"domain": ["WT","KO"], "paddingInner": 0, "paddingOuter": 0}},
           "y": {"field": "m", "type": "quantitative", "scale": {"domain": [0,15], "nice": false}, "axis": {"values": [0,5,10,15], "title": "CD8+ T cells in lung (x10⁵)", "titlePadding": 18}},
           "fill": {"condition": {"test": "datum.g=='KO'", "value": "#4a4a4a"}, "value": "white"}
         }},
        {"data": {"name": "st"}, "transform": [{"filter": "datum.p=='D'"}, {"calculate": "datum.m+datum.s", "as": "hi"}],
         "mark": {"type": "rule", "strokeWidth": 2, "color": "black"},
         "encoding": {"xOffset": {"field": "g", "scale": {"domain": ["WT","KO"], "paddingInner": 0, "paddingOuter": 0}}, "y": {"field": "m", "type": "quantitative", "scale": {"domain": [0,15], "nice": false}, "axis": {"values": [0,5,10,15], "title": "CD8+ T cells in lung (x10⁵)", "titlePadding": 18}}, "y2": {"field": "hi"}}},
        {"data": {"name": "st"}, "transform": [{"filter": "datum.p=='D'"}, {"calculate": "datum.m+datum.s", "as": "hi"}],
         "mark": {"type": "tick", "thickness": 2, "size": 11, "color": "black", "opacity": 1},
         "encoding": {"xOffset": {"field": "g", "scale": {"domain": ["WT","KO"], "paddingInner": 0, "paddingOuter": 0}}, "y": {"field": "hi", "type": "quantitative", "scale": {"domain": [0,15], "nice": false}, "axis": {"values": [0,5,10,15], "title": "CD8+ T cells in lung (x10⁵)", "titlePadding": 18}}}},
        {"data": {"name": "pts"}, "transform": [{"filter": "datum.p=='D'"}, {"calculate": "datum.g+datum.j", "as": "jk"}],
         "mark": {"type": "circle", "size": 40, "color": "black", "opacity": 1},
         "encoding": {"xOffset": {"field": "jk", "scale": {"domain": ["WT-2","WT-1","WT0","WT1","WT2","KO-2","KO-1","KO0","KO1","KO2"], "paddingInner": 0, "paddingOuter": 0}}, "y": {"field": "v", "type": "quantitative", "scale": {"domain": [0,15], "nice": false}, "axis": {"values": [0,5,10,15], "title": "CD8+ T cells in lung (x10⁵)", "titlePadding": 18}}}},
        {"data": {"name": "pts"}, "transform": [{"filter": "datum.p=='D'"}, {"aggregate": [{"op": "max", "field": "v", "as": "top"}], "groupby": ["p","d","g"]}, {"calculate": "datum.p+'|'+datum.d+'|'+datum.g", "as": "k"}, {"lookup": "k", "from": {"data": {"name": "sg"}, "key": "k", "fields": ["t"]}}, {"filter": "datum.t != null"}],
         "mark": {"type": "text", "lineBreak": "\n", "baseline": "bottom", "dy": -16, "fontSize": 15, "fontWeight": "bold", "lineHeight": 9.5, "color": "black"},
         "encoding": {"xOffset": {"field": "g", "scale": {"domain": ["WT","KO"], "paddingInner": 0, "paddingOuter": 0}}, "y": {"field": "top", "type": "quantitative", "scale": {"domain": [0,15], "nice": false}, "axis": {"values": [0,5,10,15], "title": "CD8+ T cells in lung (x10⁵)", "titlePadding": 18}}, "text": {"field": "t"}}}
      ]
    },
    {
      "width": 235, "height": 71,
      "data": {"name": "strip"},
      "encoding": {"y": {"field": "lv", "type": "quantitative", "scale": {"domain": [0.4167, 4.361], "reverse": true, "nice": false, "zero": false}, "axis": null}},
      "layer": [
        {"mark": {"type": "rule", "strokeWidth": 2.2, "color": "black"},
         "encoding": {"x": {"field": "a", "type": "nominal", "bandPosition": 0, "scale": {"domain": ["CL","6","8","10"], "paddingInner": 0.184, "paddingOuter": 0.167}, "axis": null}, "x2": {"field": "b", "bandPosition": 1}}},
        {"transform": [{"filter": "datum.lv==1"}], "mark": {"type": "text", "baseline": "middle", "dy": 10, "fontSize": 13, "fontWeight": "bold", "color": "black"},
         "encoding": {"x": {"field": "c", "type": "nominal", "scale": {"domain": ["CL","6","8","10"], "paddingInner": 0.184, "paddingOuter": 0.167}, "axis": null}, "text": {"field": "t"}}},
        {"transform": [{"filter": "datum.lv==2"}], "mark": {"type": "text", "baseline": "middle", "dy": 10, "fontSize": 12.5, "color": "black"},
         "encoding": {"x": {"field": "c", "type": "nominal", "scale": {"domain": ["CL","6","8","10"], "paddingInner": 0.184, "paddingOuter": 0.167}, "axis": null}, "text": {"field": "t"}}}
      ]
    },
    {
      "width": 235, "height": 71,
      "data": {"name": "strip"},
      "encoding": {"y": {"field": "lv", "type": "quantitative", "scale": {"domain": [0.4167, 4.361], "reverse": true, "nice": false, "zero": false}, "axis": null}},
      "layer": [
        {"mark": {"type": "rule", "strokeWidth": 2.2, "color": "black"},
         "encoding": {"x": {"field": "a", "type": "nominal", "bandPosition": 0, "scale": {"domain": ["CL","6","8","10"], "paddingInner": 0.184, "paddingOuter": 0.167}, "axis": null}, "x2": {"field": "b", "bandPosition": 1}}},
        {"transform": [{"filter": "datum.lv==1"}], "mark": {"type": "text", "baseline": "middle", "dy": 10, "fontSize": 13, "fontWeight": "bold", "color": "black"},
         "encoding": {"x": {"field": "c", "type": "nominal", "scale": {"domain": ["CL","6","8","10"], "paddingInner": 0.184, "paddingOuter": 0.167}, "axis": null}, "text": {"field": "t"}}},
        {"transform": [{"filter": "datum.lv==2"}], "mark": {"type": "text", "baseline": "middle", "dy": 10, "fontSize": 12.5, "color": "black"},
         "encoding": {"x": {"field": "c", "type": "nominal", "scale": {"domain": ["CL","6","8","10"], "paddingInner": 0.184, "paddingOuter": 0.167}, "axis": null}, "text": {"field": "t"}}}
      ]
    },
    {"width": 235, "height": 10, "data": {"name": "strip"}, "mark": {"type": "text", "opacity": 0}, "encoding": {"text": {"value": ""}},
     "title": {"text": "(E)", "anchor": "start", "frame": "group", "dx": -51, "offset": -9, "fontSize": 15, "fontWeight": "normal"}},
    {"width": 235, "height": 10, "data": {"name": "strip"}, "mark": {"type": "text", "opacity": 0}, "encoding": {"text": {"value": ""}},
     "title": {"text": "(F)", "anchor": "start", "frame": "group", "dx": -57, "offset": -9, "fontSize": 15, "fontWeight": "normal"}},
    {
      "width": 235, "height": 144,
      "resolve": {"scale": {"xOffset": "independent"}},
      "encoding": {"x": {"field": "d", "type": "nominal", "scale": {"domain": ["CL","6","8","10"], "paddingInner": 0.184, "paddingOuter": 0.167}, "axis": {"labels": false, "ticks": false, "title": null, "offset": 6}}},
      "layer": [
        {"data": {"name": "st"}, "transform": [{"filter": "datum.p=='E'"}],
         "mark": {"type": "bar", "stroke": "black", "strokeWidth": 1.8, "width": {"band": 0.85}},
         "encoding": {
           "xOffset": {"field": "g", "scale": {"domain": ["WT","KO"], "paddingInner": 0, "paddingOuter": 0}},
           "y": {"field": "m", "type": "quantitative", "scale": {"domain": [0,8], "nice": false}, "axis": {"values": [0,2,4,6,8], "title": "Tregs in lung (x10⁵)", "titlePadding": 10}},
           "fill": {"condition": {"test": "datum.g=='KO'", "value": "#4a4a4a"}, "value": "white"}
         }},
        {"data": {"name": "st"}, "transform": [{"filter": "datum.p=='E'"}, {"calculate": "datum.m+datum.s", "as": "hi"}],
         "mark": {"type": "rule", "strokeWidth": 2, "color": "black"},
         "encoding": {"xOffset": {"field": "g", "scale": {"domain": ["WT","KO"], "paddingInner": 0, "paddingOuter": 0}}, "y": {"field": "m", "type": "quantitative", "scale": {"domain": [0,8], "nice": false}, "axis": {"values": [0,2,4,6,8], "title": "Tregs in lung (x10⁵)", "titlePadding": 10}}, "y2": {"field": "hi"}}},
        {"data": {"name": "st"}, "transform": [{"filter": "datum.p=='E'"}, {"calculate": "datum.m+datum.s", "as": "hi"}],
         "mark": {"type": "tick", "thickness": 2, "size": 11, "color": "black", "opacity": 1},
         "encoding": {"xOffset": {"field": "g", "scale": {"domain": ["WT","KO"], "paddingInner": 0, "paddingOuter": 0}}, "y": {"field": "hi", "type": "quantitative", "scale": {"domain": [0,8], "nice": false}, "axis": {"values": [0,2,4,6,8], "title": "Tregs in lung (x10⁵)", "titlePadding": 10}}}},
        {"data": {"name": "pts"}, "transform": [{"filter": "datum.p=='E'"}, {"calculate": "datum.g+datum.j", "as": "jk"}],
         "mark": {"type": "circle", "size": 40, "color": "black", "opacity": 1},
         "encoding": {"xOffset": {"field": "jk", "scale": {"domain": ["WT-2","WT-1","WT0","WT1","WT2","KO-2","KO-1","KO0","KO1","KO2"], "paddingInner": 0, "paddingOuter": 0}}, "y": {"field": "v", "type": "quantitative", "scale": {"domain": [0,8], "nice": false}, "axis": {"values": [0,2,4,6,8], "title": "Tregs in lung (x10⁵)", "titlePadding": 10}}}},
        {"data": {"name": "pts"}, "transform": [{"filter": "datum.p=='E'"}, {"aggregate": [{"op": "max", "field": "v", "as": "top"}], "groupby": ["p","d","g"]}, {"calculate": "datum.p+'|'+datum.d+'|'+datum.g", "as": "k"}, {"lookup": "k", "from": {"data": {"name": "sg"}, "key": "k", "fields": ["t"]}}, {"filter": "datum.t != null"}],
         "mark": {"type": "text", "lineBreak": "\n", "baseline": "bottom", "dy": -16, "fontSize": 15, "fontWeight": "bold", "lineHeight": 9.5, "color": "black"},
         "encoding": {"xOffset": {"field": "g", "scale": {"domain": ["WT","KO"], "paddingInner": 0, "paddingOuter": 0}}, "y": {"field": "top", "type": "quantitative", "scale": {"domain": [0,8], "nice": false}, "axis": {"values": [0,2,4,6,8], "title": "Tregs in lung (x10⁵)", "titlePadding": 10}}, "text": {"field": "t"}}}
      ]
    },
    {
      "width": 235, "height": 144,
      "resolve": {"scale": {"xOffset": "independent"}},
      "encoding": {"x": {"field": "d", "type": "nominal", "scale": {"domain": ["CL","6","8","10"], "paddingInner": 0.184, "paddingOuter": 0.167}, "axis": {"labels": false, "ticks": false, "title": null, "offset": 6}}},
      "layer": [
        {"data": {"name": "st"}, "transform": [{"filter": "datum.p=='F'"}],
         "mark": {"type": "bar", "stroke": "black", "strokeWidth": 1.8, "width": {"band": 0.85}},
         "encoding": {
           "xOffset": {"field": "g", "scale": {"domain": ["WT","KO"], "paddingInner": 0, "paddingOuter": 0}},
           "y": {"field": "m", "type": "quantitative", "scale": {"domain": [0,3], "nice": false}, "axis": {"values": [0,1,2,3], "title": ["CD3+ TCRγδ+ T-cells in", "lung (x10⁵)"], "titlePadding": 6}},
           "fill": {"condition": {"test": "datum.g=='KO'", "value": "#4a4a4a"}, "value": "white"}
         }},
        {"data": {"name": "st"}, "transform": [{"filter": "datum.p=='F'"}, {"calculate": "datum.m+datum.s", "as": "hi"}],
         "mark": {"type": "rule", "strokeWidth": 2, "color": "black"},
         "encoding": {"xOffset": {"field": "g", "scale": {"domain": ["WT","KO"], "paddingInner": 0, "paddingOuter": 0}}, "y": {"field": "m", "type": "quantitative", "scale": {"domain": [0,3], "nice": false}, "axis": {"values": [0,1,2,3], "title": ["CD3+ TCRγδ+ T-cells in", "lung (x10⁵)"], "titlePadding": 6}}, "y2": {"field": "hi"}}},
        {"data": {"name": "st"}, "transform": [{"filter": "datum.p=='F'"}, {"calculate": "datum.m+datum.s", "as": "hi"}],
         "mark": {"type": "tick", "thickness": 2, "size": 11, "color": "black", "opacity": 1},
         "encoding": {"xOffset": {"field": "g", "scale": {"domain": ["WT","KO"], "paddingInner": 0, "paddingOuter": 0}}, "y": {"field": "hi", "type": "quantitative", "scale": {"domain": [0,3], "nice": false}, "axis": {"values": [0,1,2,3], "title": ["CD3+ TCRγδ+ T-cells in", "lung (x10⁵)"], "titlePadding": 6}}}},
        {"data": {"name": "pts"}, "transform": [{"filter": "datum.p=='F'"}, {"calculate": "datum.g+datum.j", "as": "jk"}],
         "mark": {"type": "circle", "size": 40, "color": "black", "opacity": 1},
         "encoding": {"xOffset": {"field": "jk", "scale": {"domain": ["WT-2","WT-1","WT0","WT1","WT2","KO-2","KO-1","KO0","KO1","KO2"], "paddingInner": 0, "paddingOuter": 0}}, "y": {"field": "v", "type": "quantitative", "scale": {"domain": [0,3], "nice": false}, "axis": {"values": [0,1,2,3], "title": ["CD3+ TCRγδ+ T-cells in", "lung (x10⁵)"], "titlePadding": 6}}}},
        {"data": {"name": "pts"}, "transform": [{"filter": "datum.p=='F'"}, {"aggregate": [{"op": "max", "field": "v", "as": "top"}], "groupby": ["p","d","g"]}, {"calculate": "datum.p+'|'+datum.d+'|'+datum.g", "as": "k"}, {"lookup": "k", "from": {"data": {"name": "sg"}, "key": "k", "fields": ["t"]}}, {"filter": "datum.t != null"}],
         "mark": {"type": "text", "lineBreak": "\n", "baseline": "bottom", "dy": -16, "fontSize": 15, "fontWeight": "bold", "lineHeight": 9.5, "color": "black"},
         "encoding": {"xOffset": {"field": "g", "scale": {"domain": ["WT","KO"], "paddingInner": 0, "paddingOuter": 0}}, "y": {"field": "top", "type": "quantitative", "scale": {"domain": [0,3], "nice": false}, "axis": {"values": [0,1,2,3], "title": ["CD3+ TCRγδ+ T-cells in", "lung (x10⁵)"], "titlePadding": 6}}, "text": {"field": "t"}}}
      ]
    },
    {
      "width": 235, "height": 40,
      "data": {"name": "strip"},
      "encoding": {"y": {"field": "lv", "type": "quantitative", "scale": {"domain": [0.4167, 2.639], "reverse": true, "nice": false, "zero": false}, "axis": null}},
      "layer": [
        {"mark": {"type": "rule", "strokeWidth": 2.2, "color": "black"},
         "encoding": {"x": {"field": "a", "type": "nominal", "bandPosition": 0, "scale": {"domain": ["CL","6","8","10"], "paddingInner": 0.184, "paddingOuter": 0.167}, "axis": null}, "x2": {"field": "b", "bandPosition": 1}}},
        {"transform": [{"filter": "datum.lv==1"}], "mark": {"type": "text", "baseline": "middle", "dy": 10, "fontSize": 13, "fontWeight": "bold", "color": "black"},
         "encoding": {"x": {"field": "c", "type": "nominal", "scale": {"domain": ["CL","6","8","10"], "paddingInner": 0.184, "paddingOuter": 0.167}, "axis": null}, "text": {"field": "t"}}},
        {"transform": [{"filter": "datum.lv==2"}], "mark": {"type": "text", "baseline": "middle", "dy": 10, "fontSize": 12.5, "color": "black"},
         "encoding": {"x": {"field": "c", "type": "nominal", "scale": {"domain": ["CL","6","8","10"], "paddingInner": 0.184, "paddingOuter": 0.167}, "axis": null}, "text": {"field": "t"}}}
      ]
    },
    {
      "width": 235, "height": 40,
      "data": {"name": "strip"},
      "encoding": {"y": {"field": "lv", "type": "quantitative", "scale": {"domain": [0.4167, 2.639], "reverse": true, "nice": false, "zero": false}, "axis": null}},
      "layer": [
        {"mark": {"type": "rule", "strokeWidth": 2.2, "color": "black"},
         "encoding": {"x": {"field": "a", "type": "nominal", "bandPosition": 0, "scale": {"domain": ["CL","6","8","10"], "paddingInner": 0.184, "paddingOuter": 0.167}, "axis": null}, "x2": {"field": "b", "bandPosition": 1}}},
        {"transform": [{"filter": "datum.lv==1"}], "mark": {"type": "text", "baseline": "middle", "dy": 10, "fontSize": 13, "fontWeight": "bold", "color": "black"},
         "encoding": {"x": {"field": "c", "type": "nominal", "scale": {"domain": ["CL","6","8","10"], "paddingInner": 0.184, "paddingOuter": 0.167}, "axis": null}, "text": {"field": "t"}}},
        {"transform": [{"filter": "datum.lv==2"}], "mark": {"type": "text", "baseline": "middle", "dy": 10, "fontSize": 12.5, "color": "black"},
         "encoding": {"x": {"field": "c", "type": "nominal", "scale": {"domain": ["CL","6","8","10"], "paddingInner": 0.184, "paddingOuter": 0.167}, "axis": null}, "text": {"field": "t"}}}
      ]
    }
  ]
}
